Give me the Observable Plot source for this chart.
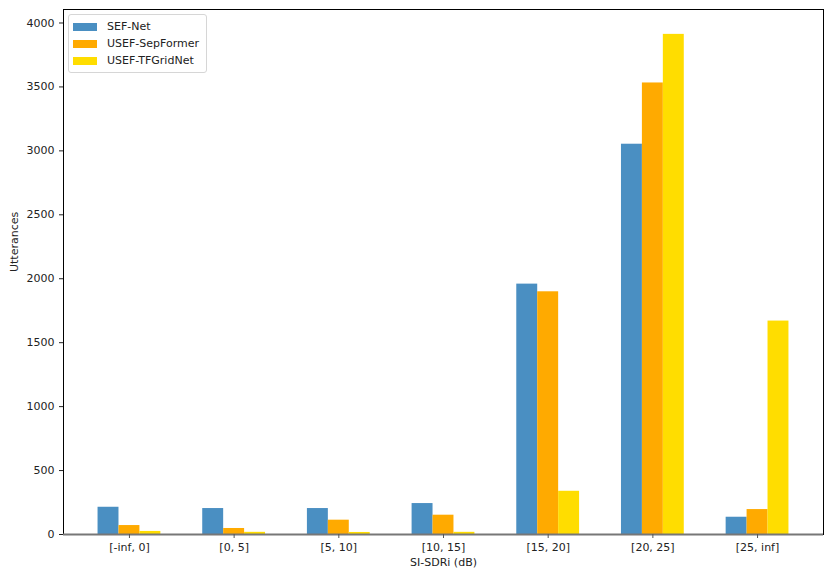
<!DOCTYPE html>
<html>
<head>
<meta charset="utf-8">
<script src="https://cdn.jsdelivr.net/npm/d3@7"></script>
<script src="https://cdn.jsdelivr.net/npm/@observablehq/plot@0.6"></script>
<style>
  body { margin: 0; background: white; }
  #wrap { position: relative; width: 830px; height: 579px; font-family: "DejaVu Sans", sans-serif; }
  #legend { position: absolute; left: 68px; top: 14px; width: 139px; box-sizing: border-box;
            border: 1px solid #d6d6d6; border-radius: 3px; background: rgba(255,255,255,0.8);
            padding: 3px 0 3px 4px; font-size: 11px; color: #222; }
  .item { display: flex; align-items: center; height: 17px; }
  .sw { width: 24px; height: 8px; margin-right: 10px; }
</style>
</head>
<body>
<div id="wrap"><div id="legend"></div></div>
<script>
const categories = ["[-inf, 0]", "[0, 5]", "[5, 10]", "[10, 15]", "[15, 20]", "[20, 25]", "[25, inf]"];
const series = ["SEF-Net", "USEF-SepFormer", "USEF-TFGridNet"];
const colors = ["#4A8FC2", "#FFAA00", "#FFDD00"];
const sefNet = [213, 203, 203, 242, 1958, 3052, 135];
const usefSepFormer = [70, 47, 112, 151, 1898, 3531, 195];
const usefTFGridNet = [24, 17, 16, 17, 338, 3911, 1669];
const yTicks = [0, 500, 1000, 1500, 2000, 2500, 3000, 3500, 4000];
const xLabel = "SI-SDRi (dB)";
const yLabel = "Utterances";

const values = [sefNet, usefSepFormer, usefTFGridNet];
const barWidth = 0.2;
const data = categories.flatMap((c, i) => series.map((s, j) => ({
  category: c, series: s, value: values[j][i],
  x1: i + (j - 1) * barWidth - barWidth / 2,
  x2: i + (j - 1) * barWidth + barWidth / 2
})));
const n = categories.length;
const pad = 0.05 * (n - 1 + 3 * barWidth);

const chart = Plot.plot({
  width: 830, height: 579,
  marginLeft: 63, marginRight: 7, marginTop: 9, marginBottom: 45,
  style: {fontFamily: "DejaVu Sans, sans-serif", fontSize: "11px", color: "#222", background: "white"},
  x: {domain: [-1.5 * barWidth - pad, n - 1 + 1.5 * barWidth + pad], label: null},
  y: {domain: [0, 4105.5], label: null},
  color: {domain: series, range: colors},
  marks: [
    Plot.rectY(data, {x1: "x1", x2: "x2", y1: 0, y2: "value", fill: "series", inset: 0}),
    Plot.frame({stroke: "black", strokeWidth: 1}),
    Plot.ruleY([0], {stroke: "#777", strokeWidth: 2}),
    Plot.axisY({ticks: yTicks, tickSize: 4, tickPadding: 5, label: null, tickFormat: d => String(d)}),
    Plot.axisX({ticks: d3.range(n), tickFormat: i => categories[i], tickSize: 4, tickPadding: 5, label: null, stroke: "#555"}),
    Plot.text([xLabel], {frameAnchor: "bottom", dy: 31, fontSize: 11}),
    Plot.text([yLabel], {frameAnchor: "left", dx: -49, rotate: -90, fontSize: 11})
  ]
});
document.getElementById("wrap").prepend(chart);

const legend = document.getElementById("legend");
series.forEach((s, j) => {
  const item = document.createElement("div");
  item.className = "item";
  const sw = document.createElement("div");
  sw.className = "sw";
  sw.style.background = colors[j];
  const t = document.createElement("span");
  t.textContent = s;
  item.append(sw, t);
  legend.append(item);
});
</script>
</body>
</html>
